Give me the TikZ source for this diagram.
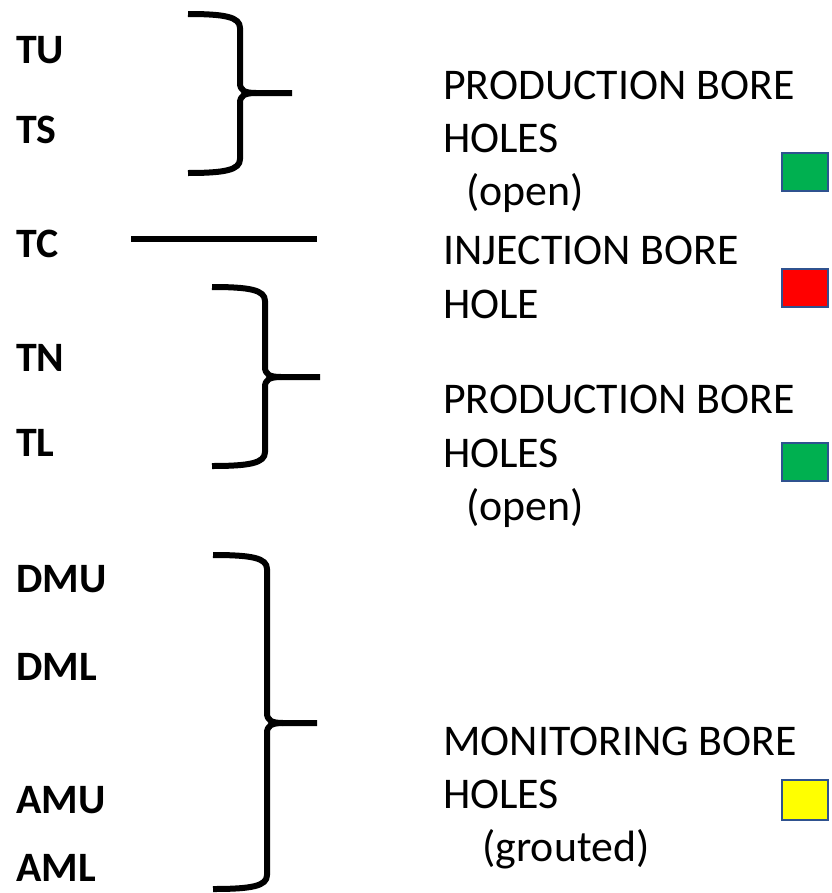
\documentclass[tikz,border=0pt]{standalone}
\usepackage{fontspec}
\setmainfont{Carlito}
\definecolor{swgreen}{HTML}{00B050}
\definecolor{swred}{HTML}{FF0000}
\definecolor{swyellow}{HTML}{FFFF00}
\definecolor{swborder}{HTML}{2F528F}
\begin{document}
\begin{tikzpicture}[x=1bp,y=-1bp,
  lbl/.style={font=\bfseries\fontsize{42}{50}\selectfont, anchor=base west, inner sep=0pt},
  txt/.style={font=\fontsize{44}{54}\selectfont, anchor=base west, inner sep=0pt},
  bracestroke/.style={line width=6bp, line cap=butt, line join=round},
  swatch/.style={draw=swborder, line width=2bp, minimum width=46bp, minimum height=38bp, inner sep=0pt}]
\useasboundingbox (0,0) rectangle (832,893);
% left labels
\node[lbl] (tu) at (16,63) {TU};
\node[lbl] (ts) at (16,143) {TS};
\node[lbl] (tc) at (16,257) {TC};
\node[lbl] (tn) at (16,371) {TN};
\node[lbl] (tl) at (16,456) {TL};
\node[lbl] (dmu) at (16,592) {DMU};
\node[lbl] (dml) at (16,680) {DML};
\node[lbl] (amu) at (16,813) {AMU};
\node[lbl] (aml) at (16,881) {AML};
% braces
\draw[bracestroke] (188,14) .. controls (225,14) and (240,17) .. (240,28) -- (240,83) .. controls (240,90) and (244,93) .. (256,93) -- (292,93);
\draw[bracestroke] (256,93) .. controls (244,93) and (240,96) .. (240,103) -- (240,159) .. controls (240,170) and (225,173) .. (188,173);
\draw[bracestroke] (212,287) .. controls (250,287) and (265,290) .. (265,301) -- (265,367) .. controls (265,374) and (269,377) .. (281,377) -- (320,377);
\draw[bracestroke] (281,377) .. controls (269,377) and (265,380) .. (265,387) -- (265,452) .. controls (265,463) and (250,466) .. (212,466);
\draw[bracestroke] (213,555) .. controls (252,555) and (267,558) .. (267,569) -- (267,713) .. controls (267,720) and (271,723) .. (283,723) -- (317,723);
\draw[bracestroke] (283,723) .. controls (271,723) and (267,726) .. (267,733) -- (267,875) .. controls (267,886) and (252,889) .. (213,889);
% TC line
\coordinate (tca) at (131,239);
\coordinate (tcb) at (317,239);
\draw[bracestroke] (tca) -- (tcb);
% right texts
\node[txt] (p1a) at (443,99) {PRODUCTION BORE};
\node[txt] (p1b) at (443,152) {HOLES};
\node[txt] (p1c) at (466,205) {(open)};
\node[txt] (ia) at (443,264) {INJECTION BORE};
\node[txt] (ib) at (443,318) {HOLE};
\node[txt] (p2a) at (443,413) {PRODUCTION BORE};
\node[txt] (p2b) at (443,467) {HOLES};
\node[txt] (p2c) at (466,520) {(open)};
\node[txt] (ma) at (443,755) {MONITORING BORE};
\node[txt] (mb) at (443,808) {HOLES};
\node[txt] (mc) at (482,861) {(grouted)};
% swatches
\node[swatch, fill=swgreen] (sq1) at (805,172) {};
\node[swatch, fill=swred] (sq2) at (805,288) {};
\node[swatch, fill=swgreen] (sq3) at (805,462) {};
\node[swatch, fill=swyellow, minimum height=40bp] (sq4) at (805,800) {};
\end{tikzpicture}
\end{document}
